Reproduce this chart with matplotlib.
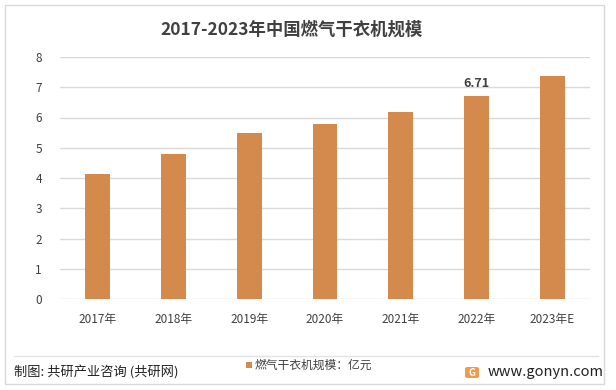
import matplotlib
matplotlib.use("Agg")
import matplotlib.pyplot as plt
from matplotlib.patches import Rectangle, FancyBboxPatch
from matplotlib.lines import Line2D

plt.rcParams['font.family'] = ['Noto Sans CJK SC', 'DejaVu Sans']

categories = ["2017年", "2018年", "2019年", "2020年", "2021年", "2022年", "2023年E"]
values = [4.13, 4.79, 5.49, 5.79, 6.18, 6.71, 7.37]
labeled = {"2022年": "6.71"}
yticks = [0, 1, 2, 3, 4, 5, 6, 7, 8]
title = "2017-2023年中国燃气干衣机规模"
legend_label = "燃气干衣机规模：亿元"
source = "制图: 共研产业咨询 (共研网)"
site = "www.gonyn.com"

bar_color = "#D48A4D"

W, H = 616, 390
fig = plt.figure(figsize=(W / 100, H / 100), dpi=100)
fig.patch.set_facecolor("white")

# outer frame
fig.add_artist(Rectangle((5 / W, 1 - 384 / H), 599 / W, 379 / H, transform=fig.transFigure,
                         fill=False, edgecolor="#D9D9D9", linewidth=1))
# footer separator
fig.add_artist(Line2D([14 / W, 598 / W], [1 - 356 / H, 1 - 356 / H], transform=fig.transFigure,
                      color="#E3E3E3", linewidth=1))

ax = fig.add_axes([60 / W, 1 - 299 / H, 530 / W, 242 / H])
x = list(range(len(categories)))
bars = ax.bar(x, values, width=0.33, color=bar_color, zorder=3)
ax.set_xlim(-0.5, len(categories) - 0.5)
ax.set_ylim(0, 8)
ax.set_yticks(yticks)
ax.set_yticklabels([str(t) for t in yticks], fontsize=8.5, color="#404040", fontweight="medium")
ax.set_xticks(x)
ax.set_xticklabels(categories, fontsize=8.5, color="#404040", fontweight="medium")
ax.grid(axis="y", color="#D9D9D9", linewidth=1, zorder=0)
for s in ax.spines.values():
    s.set_visible(False)
ax.tick_params(axis="x", length=0, pad=10)
ax.tick_params(axis="y", length=0, pad=13)

for xi, cat, v in zip(x, categories, values):
    if cat in labeled:
        ax.text(xi, v + 0.2, labeled[cat], ha="center", va="bottom", fontsize=9,
                color="#404040", fontweight="bold")

fig.text(292 / W, 1 - 30 / H, title, ha="center", va="center", fontsize=12.5,
         fontweight="bold", color="#404040")

# legend
fig.add_artist(Rectangle((246 / W, 1 - 368 / H), 6 / W, 6 / H, transform=fig.transFigure,
                         facecolor=bar_color, edgecolor="none"))
fig.text(255 / W, 1 - 365 / H, legend_label, ha="left", va="center", fontsize=8.5, color="#404040")

fig.text(14 / W, 1 - 373 / H, source, ha="left", va="center", fontsize=9.5, color="#222222")

# logo
fig.add_artist(FancyBboxPatch((465 / W, 1 - 378 / H), 14 / W, 11 / H, transform=fig.transFigure,
                              boxstyle="round,pad=0,rounding_size=0.004",
                              facecolor="#F29A4A", edgecolor="none"))
fig.text(472 / W, 1 - 372.5 / H, "G", ha="center", va="center", fontsize=7, color="white",
         fontweight="bold")
fig.text(488 / W, 1 - 372 / H, site, ha="left", va="center", fontsize=10.5, color="#222222")

fig.savefig("out.png", dpi=100)
